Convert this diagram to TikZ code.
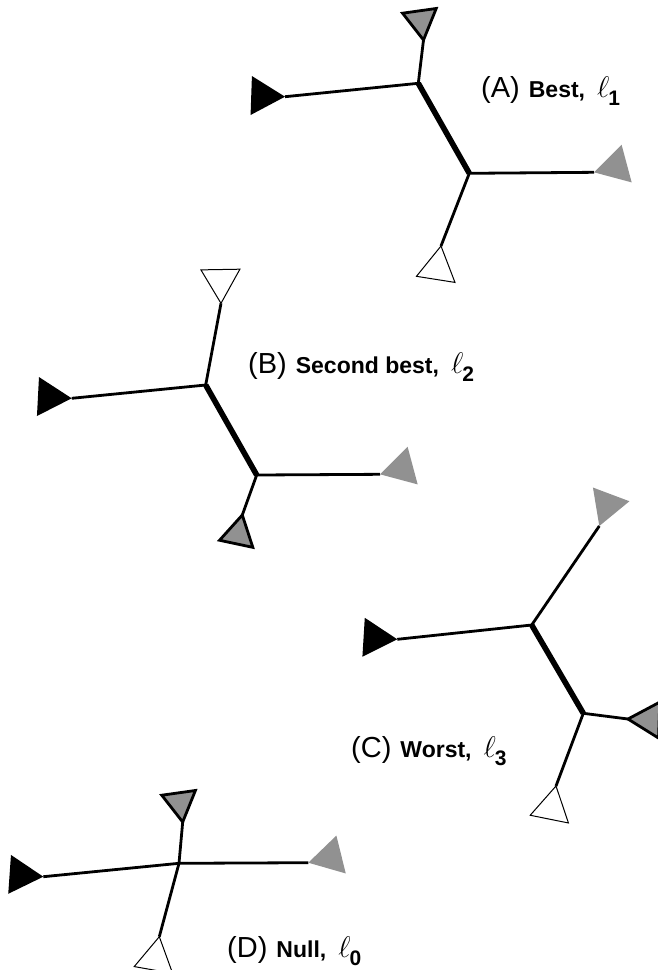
\documentclass[tikz,border=0pt]{standalone}
\usepackage{fontspec}
\setmainfont{Liberation Sans}
\usepackage{tikz}

\definecolor{leafgray}{RGB}{145,145,145}

\tikzset{
  branch/.style={line width=2.8pt, line join=round},
  inner branch/.style={line width=5.6pt, line join=round},
  black leaf/.style={fill=black, draw=none},
  gray leaf/.style={fill=leafgray, draw=none},
  ringed leaf/.style={fill=leafgray, draw=black, line width=2.8pt},
  open leaf/.style={fill=white, draw=black, line width=1pt},
  lbl/.style={anchor=base west, inner sep=0pt, font=\fontsize{29}{30}\selectfont},
}

% triangle with its tip on the leaf, opening away along the given angle
\newcommand{\leaftri}[4][39]{\draw[#4] (#2) -- ++(#3+30:#1) -- ++(#3-90:#1) -- cycle;}
% label: (letter) bold word, ell with bold index
\newcommand{\treelab}[3]{(#1)\hspace{9pt}{\fontsize{23}{24}\selectfont\bfseries #2,}\hspace{12pt}\scalebox{1.2}{\fontsize{24.88}{25}\selectfont$\ell$}\hspace{-1pt}\raisebox{-8pt}{\fontsize{21}{21}\selectfont\bfseries #3}}

\begin{document}
\begin{tikzpicture}[x=1pt,y=1pt,yscale=-1,xscale=1]
\useasboundingbox (0,0) rectangle (658,970);

%Tree (A)
\coordinate (u1) at (418.3,83.3);
\coordinate (v1) at (469.3,173.3);
\coordinate (a1) at (285,96.7);
\coordinate (a2) at (423.5,40);
\coordinate (a3) at (594,172.3);
\coordinate (a4) at (441,246);
\draw [inner branch] (u1) -- (v1);
\draw [branch] (a1) -- (u1) -- (a2);
\draw [branch] (a3) -- (v1) -- (a4);
\leaftri{a1}{182}{black leaf}
\leaftri[34]{a2}{262}{ringed leaf}
\leaftri{a3}{345}{gray leaf}
\leaftri{a4}{99}{open leaf}

%Tree (B)
\coordinate (u2) at (205.7,385);
\coordinate (v2) at (256.7,475);
\coordinate (b1) at (71.7,398.3);
\coordinate (b2) at (221,303.3);
\coordinate (b3) at (380,474.3);
\coordinate (b4) at (242.3,515);
\draw [inner branch] (u2) -- (v2);
\draw [branch] (b1) -- (u2) -- (b2);
\draw [branch] (b3) -- (v2) -- (b4);
\leaftri{b1}{183}{black leaf}
\leaftri{b2}{269}{open leaf}
\leaftri{b3}{345}{gray leaf}
\leaftri[34]{b4}{102}{ringed leaf}

%Tree (C)
\coordinate (u3) at (531.7,625);
\coordinate (v3) at (583.3,713.3);
\coordinate (c1) at (397.3,639.3);
\coordinate (c2) at (599.3,526);
\coordinate (c3) at (628,719);
\coordinate (c4) at (556,786);
\draw [inner branch] (u3) -- (v3);
\draw [branch] (c1) -- (u3) -- (c2);
\draw [branch] (c3) -- (v3) -- (c4);
\leaftri{c1}{183.5}{black leaf}
\leaftri{c2}{290.6}{gray leaf}
\leaftri[36]{c3}{2}{ringed leaf}
\leaftri{c4}{101.4}{open leaf}

%Tree (D)
\coordinate (d0) at (179,863.3);
\coordinate (d1) at (43.3,876.7);
\coordinate (d2) at (182.7,822);
\coordinate (d3) at (308.3,862.7);
\coordinate (d4) at (159.3,936.7);
\draw [branch] (d1) -- (d0) -- (d3);
\draw [branch] (d2) -- (d0) -- (d4);
\leaftri{d1}{184}{black leaf}
\leaftri[34]{d2}{262}{ringed leaf}
\leaftri{d3}{346}{gray leaf}
\leaftri{d4}{100}{open leaf}

% Text Node
\node [lbl] (labA) at (481,97) {\treelab{A}{Best}{1}};
% Text Node
\node [lbl] (labB) at (248,373) {\treelab{B}{Second best}{2}};
% Text Node
\node [lbl] (labC) at (351,757) {\treelab{C}{Worst}{3}};
% Text Node
\node [lbl] (labD) at (227,957) {\treelab{D}{Null}{0}};

\end{tikzpicture}
\end{document}
